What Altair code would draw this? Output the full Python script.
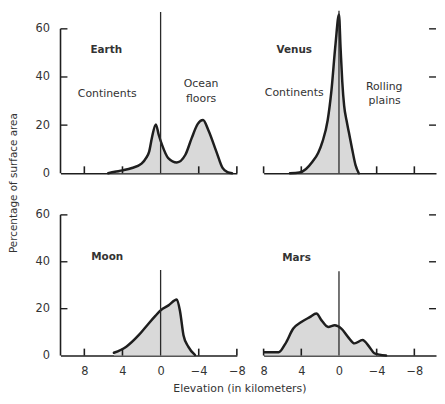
import altair as alt
import pandas as pd

FONT = "DejaVu Sans"
INK = "#1e1e1e"
TXT = "#333333"
FILL = "#d9d9d9"

# ---- data (elevation in km, percentage of surface area) ----
earth_elev = [5.5, 4.8, 4.0, 3.0, 2.0, 1.5, 1.2, 0.9, 0.5, 0.2, -0.15, -0.8, -1.7, -2.6, -3.25, -3.9, -4.45, -5.0, -5.85, -6.5, -7.0, -7.5]
earth_pct = [0, 0.6, 1.2, 2.2, 4, 6.5, 9, 15, 20.3, 16, 11.8, 6.3, 4.5, 7.7, 14.5, 20.5, 22.1, 18, 9, 2.2, 0.5, 0]

venus_elev = [5.2, 4.2, 3.5, 2.8, 2.2, 1.76, 1.2, 0.81, 0.36, 0.0, -0.17, -0.35, -0.55, -0.8, -1.05, -1.4, -1.75, -2.1]
venus_pct = [0, 0.3, 1.8, 4.9, 8.5, 13, 22, 34, 54, 66, 52, 38, 28, 22, 17, 10, 3.5, 0]

moon_elev = [4.9, 3.6, 2.3, 1.25, 0.55, 0.0, -0.83, -1.7, -2.05, -2.4, -2.9, -3.6]
moon_pct = [1.2, 3.8, 8.7, 13.7, 16.9, 19.3, 21.4, 23.9, 18.6, 8.7, 3.8, 0.3]

mars_elev = [7.9, 6.4, 5.7, 4.85, 4.0, 3.1, 2.4, 1.85, 1.15, 0.45, -0.25, -0.95, -1.65, -2.5, -3.2, -3.75, -4.3, -5.0]
mars_pct = [1.4, 1.4, 5, 11.5, 14.3, 16.4, 17.9, 15, 12.2, 12.9, 11.5, 8, 5.2, 6.6, 3.8, 1.0, 0.4, 0]

x_tick_values = [8, 4, -4, -8]
x_label_values = [8, 4, 0, -4, -8]
y_tick_values = [20, 40, 60]
y_label_values = [0, 20, 40, 60]

earth_notes = [("Earth", 5.7, 51.4, "bold"), ("Continents", 5.6, 32.9, "normal"),
               ("Ocean", -4.25, 37.0, "normal"), ("floors", -4.25, 30.9, "normal")]
venus_notes = [("Venus", 4.75, 51.4, "bold"), ("Continents", 4.75, 33.3, "normal"),
               ("Rolling", -4.8, 35.8, "normal"), ("plains", -4.85, 30.0, "normal")]
moon_notes = [("Moon", 5.6, 42.2, "bold")]
mars_notes = [("Mars", 4.5, 41.4, "bold")]


def panel(elev, pct, notes, xdom, ydom, w, h, zero_top, left, bottom):
    xs = alt.Scale(domain=xdom, reverse=True, nice=False, zero=False)
    ys = alt.Scale(domain=ydom, nice=False, zero=False)
    if bottom:
        xaxis = alt.Axis(values=x_label_values, tickSize=0, labelPadding=10, labelFontSize=11.5,
                         labelFont=FONT, labelColor=TXT, domainColor=INK, domainWidth=1.6,
                         grid=False, title=None, labelFlush=False)
    else:
        xaxis = alt.Axis(labels=False, ticks=False, domainColor=INK, domainWidth=1.6,
                         grid=False, title=None)
    if left:
        yaxis = alt.Axis(values=y_label_values, tickSize=0, labelPadding=11, domain=False,
                         labelFontSize=11.5, labelFont=FONT, labelColor=TXT, grid=False, title=None)
    else:
        yaxis = None

    def X(f="e"):
        return alt.X(f"{f}:Q", scale=xs, axis=xaxis)

    def Y(f="p"):
        return alt.Y(f"{f}:Q", scale=ys, axis=yaxis)

    curve = pd.DataFrame({"e": elev, "p": pct})
    area = alt.Chart(curve).mark_area(color=FILL, interpolate="monotone").encode(x=X(), y=Y())
    line = alt.Chart(curve).mark_line(color=INK, strokeWidth=2.5, interpolate="monotone",
                                      strokeJoin="round", strokeCap="round").encode(x=X(), y=Y())

    zero = alt.Chart(pd.DataFrame({"e": [0], "p": [0], "p2": [zero_top]})).mark_rule(
        color="#2a2a2a", strokeWidth=1.3).encode(x=X(), y=Y(), y2="p2:Q")

    xt = alt.Chart(pd.DataFrame({"e": x_tick_values})).mark_rule(color=INK, strokeWidth=1.6).encode(
        x=X(), y=alt.value(h), y2=alt.value(h - 7))

    if left:
        yt = alt.Chart(pd.DataFrame({"p": y_tick_values})).mark_rule(color=INK, strokeWidth=1.4).encode(
            y=Y(), x=alt.value(0), x2=alt.value(7))
        spine = alt.Chart(pd.DataFrame({"p": [0], "p2": [60]})).mark_rule(color=INK, strokeWidth=1.6).encode(
            y=Y(), y2="p2:Q", x=alt.value(0))
        extra = [yt, spine]
    else:
        yt = alt.Chart(pd.DataFrame({"p": y_tick_values})).mark_rule(color=INK, strokeWidth=1.4).encode(
            y=Y(), x=alt.value(w - 7), x2=alt.value(w))
        extra = [yt]

    nd = pd.DataFrame({"t": [n[0] for n in notes], "e": [n[1] for n in notes],
                       "p": [n[2] for n in notes], "wt": [n[3] for n in notes]})
    tb = alt.Chart(nd[nd.wt == "bold"]).mark_text(font=FONT, fontSize=10.5, fontWeight="bold",
                                                  color=TXT, baseline="middle").encode(
        x=X(), y=Y(), text="t:N")
    tn = alt.Chart(nd[nd.wt == "normal"]).mark_text(font=FONT, fontSize=11, color=TXT,
                                                    baseline="middle").encode(
        x=X(), y=Y(), text="t:N")

    return alt.layer(area, line, zero, xt, *extra, tb, tn).properties(width=w, height=h)


LW, RW = 178, 174
TH, BH = 164, 142

earth = panel(earth_elev, earth_pct, earth_notes, [-8, 10.5], [0, 67.5], LW, TH, 67, True, False)
venus = panel(venus_elev, venus_pct, venus_notes, [-10.3, 8], [0, 67.5], RW, TH, 67.5, False, False)
moon = panel(moon_elev, moon_pct, moon_notes, [-8, 10.5], [0, 60], LW, BH, 36.5, True, True)
mars = panel(mars_elev, mars_pct, mars_notes, [-10.3, 8], [0, 60], RW, BH, 36, False, True)

row1 = alt.hconcat(earth, venus, spacing=27, bounds="flush")
row2 = alt.hconcat(moon, mars, spacing=27, bounds="flush").properties(
    title=alt.TitleParams("Elevation (in kilometers)", orient="bottom", anchor="middle",
                          font=FONT, fontSize=11, fontWeight="normal", color=TXT, offset=6, dx=4))

chart = alt.vconcat(row1, row2, spacing=30).properties(
    title=alt.TitleParams("Percentage of surface area", orient="left", anchor="middle",
                          font=FONT, fontSize=10.5, fontWeight="normal", color=TXT, offset=16,
                          dx=19),
    padding=0,
).configure(background="white").configure_view(stroke=None)

chart.save("out.html", embed_options={"renderer": "svg", "actions": False})
